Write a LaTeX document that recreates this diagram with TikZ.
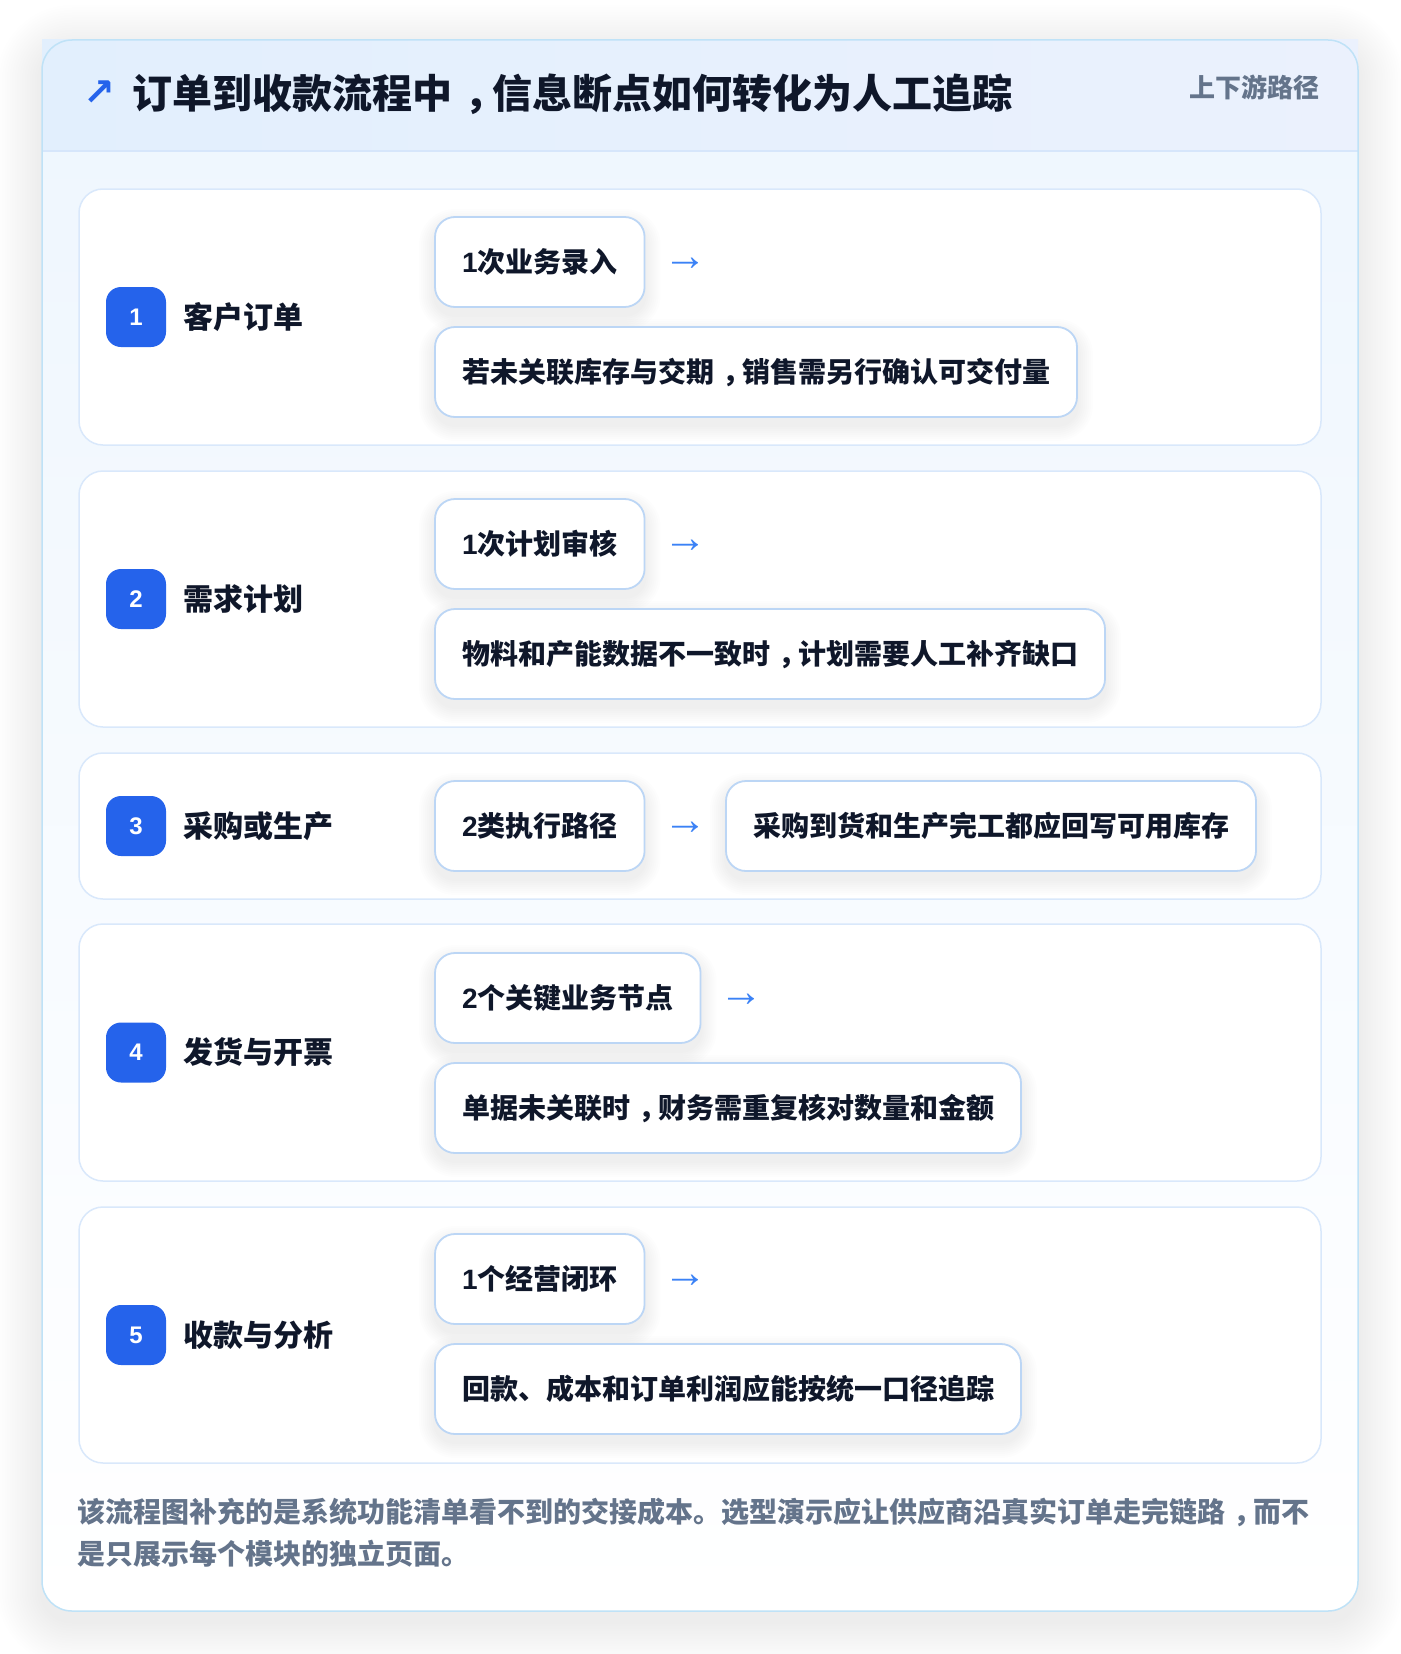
\documentclass[tikz,border=0pt]{standalone}
\usepackage{fontspec}
\setmainfont{Noto Sans CJK SC}
\newfontfamily\symfont{DejaVu Sans}
\newfontfamily\arrfont{Liberation Sans}
\definecolor{cardline}{HTML}{BFE2F7}
\definecolor{headL}{HTML}{E2EFFD}
\definecolor{headR}{HTML}{EBF1FD}
\definecolor{headline}{HTML}{D6E6FB}
\definecolor{cardtop}{HTML}{EEF6FE}
\definecolor{rowline}{HTML}{D9E8FB}
\definecolor{chipline}{HTML}{BCD6F5}
\definecolor{badgeblue}{HTML}{2563EB}
\definecolor{ink}{HTML}{0F172A}
\definecolor{slate}{HTML}{64748B}
\definecolor{arrblue}{HTML}{3B82F6}
\pgfdeclarelayer{cardl}
\pgfdeclarelayer{rowl}
\pgfdeclarelayer{shadl}
\pgfsetlayers{cardl,rowl,shadl,main}
\newcommand{\cnc}{\hspace{0.3em}，\hspace{-0.3em}}
\newcommand{\dg}[1]{{\arrfont #1}}
\newcommand{\softshadow}[6]{% name, radius, steps, step, yoff, opacity
  \foreach \i in {1,...,#3}{%
    \pgfmathsetmacro{\rr}{\i*#4}%
    \pgfmathsetmacro{\cr}{#2+\rr}%
    \fill[black,opacity=#6,rounded corners=\cr pt]
      ([xshift=-\rr pt,yshift={-(#5+\rr)*1pt}]#1.south west) rectangle
      ([xshift=\rr pt,yshift={(\rr-#5)*1pt}]#1.north east);
  }}
\begin{document}
\begin{tikzpicture}[x=1pt,y=-1pt,
  every node/.style={inner sep=0pt,outer sep=0pt},
  rowbox/.style={draw=rowline,line width=1.5pt,fill=white,rounded corners=24pt,minimum width=1242pt},
  chip/.style={draw=chipline,line width=1.8pt,fill=white,rounded corners=20pt,
    minimum height=90pt,inner xsep=27pt,anchor=west,text=ink,
    font=\fontsize{28}{32}\selectfont\bfseries,text height=24.6pt,text depth=3.4pt},
  badge/.style={fill=badgeblue,rounded corners=15pt,minimum size=60pt,text=white,
    font=\arrfont\fontsize{24}{28}\selectfont\bfseries},
  lbl/.style={anchor=west,text=ink,font=\fontsize{30}{34}\selectfont\bfseries,text height=26.4pt,text depth=3.6pt},
  arr/.style={text=arrblue,font=\arrfont\fontsize{44}{48}\selectfont},
  foot/.style={anchor=west,text=slate,font=\fontsize{28}{32}\selectfont\bfseries,text height=24.6pt,text depth=3.4pt}
]
\useasboundingbox (0,0) rectangle (1400,1654);
\begin{pgfonlayer}{cardl}
\fill[white] (0,0) rectangle (1400,1654);
\node[minimum width=1316pt,minimum height=1571pt] (card) at (700,825.5) {};
\softshadow{card}{30}{18}{2.5}{10}{0.0055}
\path[rounded corners=30pt,top color=cardtop,bottom color=white] (card.north west) rectangle (card.south east);
\path[left color=headL,right color=headR] (42,40) rectangle (1358,151);
\draw[headline,line width=2pt] (42,151) -- (1358,151);
\draw[cardline,line width=1.5pt,rounded corners=30pt] (card.north west) rectangle (card.south east);
\end{pgfonlayer}
% header
\node[text=badgeblue,font=\symfont\bfseries\fontsize{38}{42}\selectfont] (hicon) at (99.5,93) {↗};
\node[anchor=west,text=ink,font=\fontsize{40}{46}\selectfont\bfseries,text height=35.2pt,text depth=4.8pt] (title) at (132,93.5) {订单到收款流程中\cnc 信息断点如何转化为人工追踪};
\node[anchor=east,text=slate,font=\fontsize{26}{30}\selectfont\bfseries,text height=22.9pt,text depth=3.1pt] (tag) at (1319,87.5) {上下游路径};
% rows
\begin{pgfonlayer}{rowl}
\node[rowbox,minimum height=256pt] (row1) at (700,317) {};
\node[rowbox,minimum height=256pt] (row2) at (700,599) {};
\node[rowbox,minimum height=146pt] (row3) at (700,826) {};
\node[rowbox,minimum height=257pt] (row4) at (700,1052.5) {};
\node[rowbox,minimum height=256pt] (row5) at (700,1335) {};
\end{pgfonlayer}
% badges and labels
\node[badge] (b1) at (136,317) {1};
\node[lbl] (l1) at (183,317) {客户订单};
\node[badge] (b2) at (136,599) {2};
\node[lbl] (l2) at (183,599) {需求计划};
\node[badge] (b3) at (136,826) {3};
\node[lbl] (l3) at (183,826) {采购或生产};
\node[badge] (b4) at (136,1052.5) {4};
\node[lbl] (l4) at (183,1052.5) {发货与开票};
\node[badge] (b5) at (136,1335) {5};
\node[lbl] (l5) at (183,1335) {收款与分析};
% chips
\node[chip] (c1a) at (435,262) {\dg{1}次业务录入};
\node[arr] (a1) at ([xshift=40.5pt,yshift=-2pt]c1a.east) {→};
\node[chip] (c1b) at (435,372) {若未关联库存与交期\cnc 销售需另行确认可交付量};
\node[chip] (c2a) at (435,544) {\dg{1}次计划审核};
\node[arr] (a2) at ([xshift=40.5pt,yshift=-2pt]c2a.east) {→};
\node[chip] (c2b) at (435,654) {物料和产能数据不一致时\cnc 计划需要人工补齐缺口};
\node[chip] (c3a) at (435,826) {\dg{2}类执行路径};
\node[chip] (c3b) at (726,826) {采购到货和生产完工都应回写可用库存};
\node[arr] (a3) at ([xshift=40.5pt,yshift=-2pt]c3a.east) {→};
\node[chip] (c4a) at (435,998) {\dg{2}个关键业务节点};
\node[arr] (a4) at ([xshift=40.5pt,yshift=-2pt]c4a.east) {→};
\node[chip] (c4b) at (435,1108) {单据未关联时\cnc 财务需重复核对数量和金额};
\node[chip] (c5a) at (435,1279) {\dg{1}个经营闭环};
\node[arr] (a5) at ([xshift=40.5pt,yshift=-2pt]c5a.east) {→};
\node[chip] (c5b) at (435,1389) {回款、成本和订单利润应能按统一口径追踪};
\begin{pgfonlayer}{shadl}
\foreach \c in {c1a,c1b,c2a,c2b,c3a,c3b,c4a,c4b,c5a,c5b}{\softshadow{\c}{20}{8}{2}{8}{0.008}}
\end{pgfonlayer}
% footer
\node[foot] (f1) at (77,1512) {该流程图补充的是系统功能清单看不到的交接成本。选型演示应让供应商沿真实订单走完链路\cnc 而不};
\node[foot] (f2) at (77,1554) {是只展示每个模块的独立页面。};
\end{tikzpicture}
\end{document}
